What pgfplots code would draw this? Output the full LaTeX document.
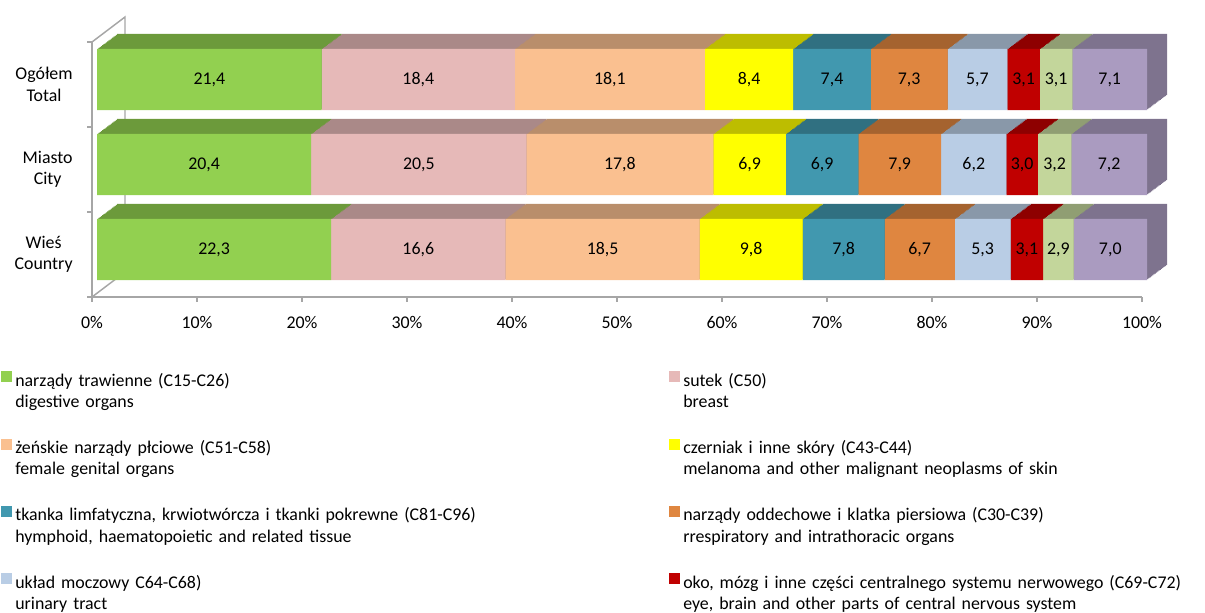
\documentclass[border=0pt]{standalone}
\usepackage{fontspec}
\setmainfont{Carlito}
\usepackage{pgfplots}
\usepackage{pgfplotstable}
\pgfplotsset{compat=1.18}

\definecolor{axgray}{HTML}{A6A6A6}
\definecolor{cA}{HTML}{92D050}
\definecolor{cB}{HTML}{E6B9B8}
\definecolor{cC}{HTML}{FAC090}
\definecolor{cD}{HTML}{FFFF00}
\definecolor{cE}{HTML}{4198AF}
\definecolor{cF}{HTML}{DF8640}
\definecolor{cG}{HTML}{B9CDE5}
\definecolor{cH}{HTML}{C00000}
\definecolor{cI}{HTML}{C3D69B}
\definecolor{cJ}{HTML}{AA9BC0}

\newcommand{\lbl}{\fontsize{13.4pt}{16pt}\selectfont}

% rows: 2 = Ogolem/Total, 1 = Miasto/City, 0 = Wies/Country
\pgfplotstableread{
pos  A    B    C    D   E   F   G   H   I   J
2    21.4 18.4 18.1 8.4 7.4 7.3 5.7 3.1 3.1 7.1
1    20.4 20.5 17.8 6.9 6.9 7.9 6.2 3.0 3.2 7.2
0    22.3 16.6 18.5 9.8 7.8 6.7 5.3 3.1 2.9 7.0
}\shares

\pgfplotsset{
  barax/.style={scale only axis, width=787.5pt, height=191.25pt, anchor=south west,
    xmin=0, xmax=100, ymin=-0.5, ymax=2.5, hide axis, xbar stacked, bar width=0.72},
}

% darker copies, swept backwards, give the top and side faces
\newcommand{\backbars}{%
  \pgfplotsinvokeforeach{A,B,C,D,E,F,G,H,I,J}{%
    \addplot[fill=c##1!74!black, draw=none] table[x=##1,y=pos]{\shares};}}

\newcommand{\frontbars}{%
  \pgfplotsinvokeforeach{A,B,C,D,E,F,G,H,I,J}{%
    \addplot[fill=c##1, draw=none, point meta=explicit]
      table[x=##1,y=pos,meta=##1]{\shares};}}

\begin{document}
\begin{tikzpicture}
\path[use as bounding box] (0,0) rectangle (903.75pt,459pt);

% frame: ticks, labels and the left wall
\begin{axis}[scale only axis, width=787.5pt, height=191.25pt,
  at={(69pt,236.25pt)}, anchor=south west, clip=false,
  xmin=0, xmax=100, ymin=-0.5, ymax=2.5,
  axis x line*=bottom, axis y line*=left,
  axis line style={draw=axgray, line width=1.1pt, -},
  tick align=outside, major tick length=3.5pt,
  tick style={draw=axgray, line width=1pt},
  xtick={0,10,...,100},
  xticklabel={\pgfmathprintnumber[assume math mode=true]{\tick}\%},
  xticklabel style={font=\lbl, text=black, yshift=-7.5pt},
  ytick={-0.5,0.5,1.5,2.5}, yticklabels={},
  extra y ticks={0,1,2},
  extra y tick labels={{Wieś\\Country},{Miasto\\City},{Ogółem\\Total}},
  extra y tick style={major tick length=0pt,
    yticklabel style={align=center, font=\lbl, text=black, xshift=-11pt}},
]
\draw[axgray, line width=1.1pt] (rel axis cs:0,1) -- ++(24.75pt,18.75pt)
  -- ++(0pt,-191.25pt) -- (rel axis cs:0,0);
\end{axis}

\foreach \k in {16,15,...,1}{
  \pgfmathsetmacro{\ax}{72.75+15*\k/16}
  \pgfmathsetmacro{\ay}{240+11.25*\k/16}
  \begin{axis}[barax, at={(\ax pt,\ay pt)}]
  \backbars
  \end{axis}
}

\begin{axis}[barax, at={(72.75pt,240pt)},
  nodes near coords={\pgfmathprintnumber[fixed,fixed zerofill,precision=1,use comma,assume math mode=true]{\pgfplotspointmeta}},
  nodes near coords align=center,
  every node near coord/.append style={font=\lbl, text=black, anchor=center},
  every axis plot post/.append style={legend image code/.code={
    \fill[#1] (0pt,-1.1pt) rectangle (8.25pt,7.15pt);}},
  legend columns=2,
  legend cell align=left,
  legend style={draw=none, fill=none, inner sep=0pt,
    at={(axis description cs:-0.0914,-0.3097)}, anchor=north west,
    font=\lbl, row sep=37.7pt,
    nodes={text width=490.5pt, align=left, inner sep=0pt},
    /tikz/every odd column/.append style={column sep=2.25pt}},
  legend entries={
    {narządy trawienne (C15-C26)\\digestive organs},
    {sutek (C50)\\breast},
    {żeńskie narządy płciowe (C51-C58)\\female genital organs},
    {czerniak i inne skóry (C43-C44)\\melanoma and other malignant neoplasms of skin},
    {tkanka limfatyczna, krwiotwórcza i tkanki pokrewne (C81-C96)\\hymphoid, haematopoietic and related tissue},
    {narządy oddechowe i klatka piersiowa (C30-C39)\\rrespiratory and intrathoracic organs},
    {układ moczowy C64-C68)\\urinary tract},
    {oko, mózg i inne części centralnego systemu nerwowego (C69-C72)\\eye, brain and other parts of central nervous system}},
]
\frontbars
\end{axis}
\end{tikzpicture}
\end{document}
